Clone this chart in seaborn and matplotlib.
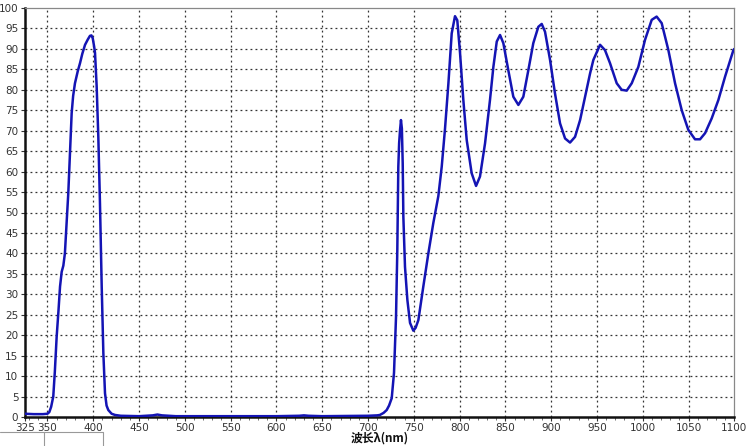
import matplotlib
matplotlib.use("Agg")
import matplotlib.pyplot as plt
from matplotlib.lines import Line2D
from matplotlib.ticker import MultipleLocator
import seaborn as sns
import pandas as pd

# ---- data ----
wavelength = [325, 335, 345, 350, 352, 354, 356.3, 358, 360, 362, 363.7, 365.5, 367.3,
              369, 371, 372.7, 374.6, 376.4, 378, 380, 383, 385.5, 388, 391, 394, 396.4,
              398, 399.4, 401, 401.9, 403.7, 405.5, 407.3, 409.2, 411, 412.8, 414.5, 416.4,
              420, 423.7, 430, 450, 465, 470, 475, 490, 550, 600, 625, 630, 635, 650, 700,
              710, 713, 717, 720.4, 723, 725.9, 728.4, 730.6, 732, 733.1, 734, 735, 736,
              737, 737.9, 738.6, 740.4, 743, 745.9, 749.5, 752, 755, 760.4, 765.9, 771.3,
              776.8, 780.5, 784.1, 787.8, 791.4, 795, 797.5, 800.5, 804.1, 807.8, 813.2,
              818, 822.3, 827.8, 833.2, 836.9, 840.6, 844.2, 847.8, 853.2, 858.7, 864.2,
              869.6, 875.1, 880.5, 886, 889.7, 893.3, 898.8, 904.2, 909.7, 915.2, 920.6,
              926.1, 931.6, 937, 942.5, 946.1, 953.4, 958.8, 964.3, 971.6, 977, 982.5, 988,
              995.2, 1002.5, 1009.8, 1015.2, 1020.7, 1028, 1035.3, 1042.6, 1049.8, 1057.1,
              1062.6, 1068.1, 1075.3, 1082.6, 1089.9, 1099, 1100]
transmittance = [0.8, 0.7, 0.7, 0.8, 1.2, 2.5, 5.0, 11.0, 19.6, 26.0, 31.9, 35.5, 37.0,
                 40.0, 48.0, 54.7, 64.5, 74.3, 78.5, 81.6, 84.5, 86.5, 88.8, 91.0, 92.3, 93.2,
                 93.3, 92.6, 90.5, 89.0, 80.8, 68.5, 52.3, 31.9, 15.6, 5.8, 2.8, 1.7,
                 0.8, 0.5, 0.3, 0.2, 0.4, 0.6, 0.4, 0.2, 0.2, 0.2, 0.3, 0.4, 0.3, 0.2, 0.3,
                 0.4, 0.5, 1.0, 1.7, 2.8, 4.6, 10.8, 24.5, 40.8, 61.2, 67.0, 70.2, 72.6,
                 70.5, 62.0, 49.0, 36.7, 28.6, 23.0, 21.1, 21.8, 23.7, 31.9, 40.0, 47.4,
                 54.0, 61.2, 70.5, 81.6, 93.8, 98.0, 97.0, 89.0, 77.5, 67.7, 59.6,
                 56.5, 58.8, 66.9, 77.5, 85.6, 91.8, 93.4, 91.4, 84.8, 78.3, 76.3,
                 78.3, 84.8, 91.4, 95.4, 96.1, 94.2, 87.3, 79.1, 71.8, 68.1, 67.1,
                 68.5, 72.6, 78.3, 84.0, 87.3, 91.0, 89.7, 86.5, 81.6, 80.0, 79.8, 81.6,
                 85.6, 92.2, 97.1, 97.9, 96.3, 89.7, 81.6, 75.0, 70.2, 67.9,
                 67.9, 69.4, 73.0, 77.5, 83.2, 89.7, 90.0]

x_ticks = [325, 350, 400, 450, 500, 550, 600, 650, 700, 750, 800, 850, 900, 950, 1000, 1050, 1100]
x_grid = [350, 400, 450, 500, 550, 600, 650, 700, 750, 800, 850, 900, 950, 1000, 1050]
y_ticks = [0, 5, 10, 15, 20, 25, 30, 35, 40, 45, 50, 55, 60, 65, 70, 75, 80, 85, 90, 95, 100]
y_grid = [5, 10, 15, 20, 25, 30, 35, 40, 45, 50, 55, 60, 65, 70, 75, 80, 85, 90, 95]
x_label = "波长λ(nm)"

df = pd.DataFrame({"wl": wavelength, "T": transmittance})

sns.set_style("white")
plt.rcParams['font.family'] = ['DejaVu Sans', 'Noto Sans CJK SC']

fig = plt.figure(figsize=(7.5, 4.46), dpi=100)
ax = fig.add_axes([24.6 / 750, 29 / 446, (734.3 - 24.6) / 750, (417 - 8) / 446])

for gx in x_grid:
    ax.axvline(gx, color="#333333", linestyle=(0, (1.5, 2.5)), linewidth=0.9, zorder=1)
for gy in y_grid:
    ax.axhline(gy, color="#333333", linestyle=(0, (1.5, 2.5)), linewidth=0.9, zorder=1)

sns.lineplot(data=df, x="wl", y="T", ax=ax, color="#1414b4", linewidth=1.8, zorder=3)

ax.set_xlim(325, 1100)
ax.set_ylim(0, 100)
ax.set_xticks(x_ticks)
ax.set_xticklabels([str(v) for v in x_ticks])
ax.set_yticks(y_ticks)
ax.set_yticklabels([str(v) for v in y_ticks])
ax.xaxis.set_minor_locator(MultipleLocator(10))
ax.tick_params(axis="both", which="major", labelsize=7.5, labelcolor="#333333",
               length=3, width=0.8, direction="out", pad=1.5, color="#333333")
ax.tick_params(axis="x", which="minor", length=2, width=0.6, color="#555555",
               direction="out", bottom=True)
ax.tick_params(axis="x", which="major", bottom=True)
ax.tick_params(axis="y", which="major", left=True)

ax.set_xlabel("")
ax.set_ylabel("")
fig.text((24.6 + 734.3) / 2 / 750, 1 - 438.5 / 446, x_label, ha="center", va="center",
         fontsize=8.5, fontweight="bold", color="#111111",
         family=['Noto Sans CJK SC', 'DejaVu Sans'])

for side in ["left", "bottom"]:
    ax.spines[side].set_color("#111111")
    ax.spines[side].set_linewidth(1.8)
for side in ["top", "right"]:
    ax.spines[side].set_color("#888888")
    ax.spines[side].set_linewidth(0.9)

# screenshot window-frame remnants at the bottom-left
fig.add_artist(Line2D([0, 44 / 750], [1 - 432 / 446, 1 - 432 / 446], color="#999999",
                      linewidth=0.8, transform=fig.transFigure))
fig.add_artist(Line2D([44 / 750, 44 / 750, 103 / 750, 103 / 750],
                      [0, 1 - 432 / 446, 1 - 432 / 446, 0], color="#999999",
                      linewidth=0.8, transform=fig.transFigure))

fig.savefig("out.png", dpi=100)
